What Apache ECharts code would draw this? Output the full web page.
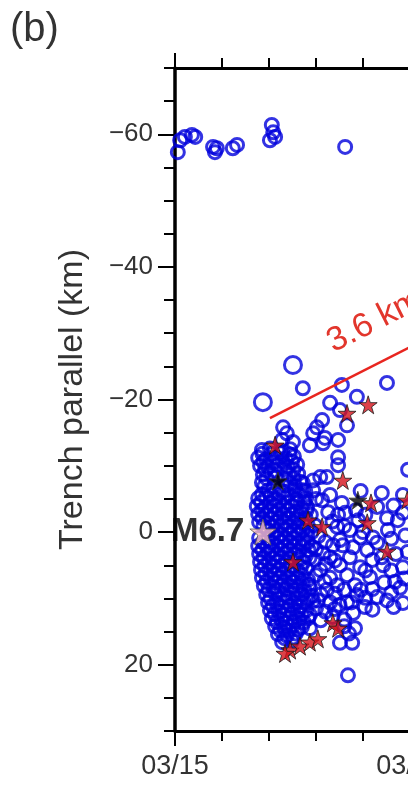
<!DOCTYPE html>
<html><head><meta charset="utf-8">
<script src="https://cdn.jsdelivr.net/npm/echarts@6/dist/echarts.min.js"></script>
<style>html,body{margin:0;padding:0;background:#fff}#c{width:408px;height:803px}</style>
</head><body><div id="c"></div>
<script>
const FONT = '"Liberation Sans", Arial, Helvetica, sans-serif';
const panelLabel = '(b)';
const yAxisTitle = 'Trench parallel (km)';
const xTickDays = [0, 5, 10];
const xTickLabels = ['03/15', '03/20', '03/25'];
const yTickValues = [-60, -40, -20, 0, 20];
const mainshockLabel = 'M6.7';
const rateLabel = '3.6 km/day';

// [days since 03/15, trench-parallel km]
const farAftershocks = [
  [0.06,-57.3],[0.11,-59.1],[0.21,-59.6],[0.36,-59.9],[0.43,-59.6],[0.81,-58.1],[0.85,-57.3],
  [0.89,-57.9],[1.23,-57.9],[1.32,-58.4],[2.02,-59.1],[2.06,-61.4],[2.09,-60.3],[2.13,-59.6],[3.62,-58.1]
];
const aftershocks = [
  [1.85,-12.4],[2.02,-12.6],[2.28,-12.2],[2.45,-12.5],
  [1.77,-11.2],[1.94,-11.0],[2.15,-11.3],[2.36,-11.1],[2.53,-11.4],
  [1.81,-10.0],[1.98,-9.8],[2.19,-10.1],[2.40,-9.9],[2.60,-10.2],
  [1.87,-8.7],[2.04,-8.9],[2.43,-8.6],[2.62,-8.8],
  [1.85,-7.5],[2.45,-7.3],[2.66,-7.6],
  [1.98,-6.3],[2.30,-6.1],[2.55,-6.4],[2.77,-6.2],
  [1.77,-5.1],[1.94,-5.3],[2.13,-5.0],[2.34,-5.2],[2.57,-4.9],[2.79,-5.1],
  [1.74,-3.9],[1.91,-3.7],[2.11,-4.0],[2.30,-3.8],[2.49,-3.9],[2.70,-3.6],
  [1.77,-2.7],[1.94,-2.5],[2.13,-2.8],[2.32,-2.6],[2.51,-2.7],[2.68,-2.9],[2.89,-2.6],
  [1.79,-1.5],[1.98,-1.3],[2.17,-1.6],[2.36,-1.4],[2.55,-1.5],[2.74,-1.2],
  [1.98,-0.3],[2.15,-0.1],[2.34,-0.4],[2.53,-0.2],[2.72,-0.3],[2.91,0.0],
  [1.79,0.9],[1.98,1.1],[2.17,0.8],[2.36,1.0],[2.55,0.9],[2.74,1.2],
  [1.77,2.1],[1.96,2.3],[2.15,2.0],[2.34,2.2],[2.53,2.1],[2.72,1.9],[2.91,2.2],
  [1.79,3.3],[1.98,3.1],[2.17,3.4],[2.36,3.2],[2.57,3.3],[2.79,3.5],
  [1.81,4.5],[2.00,4.7],[2.19,4.4],[2.38,4.6],[2.74,4.5],
  [1.83,5.7],[2.02,5.9],[2.21,5.6],[2.40,5.8],[2.60,5.7],[2.79,5.5],
  [1.85,6.9],[2.04,7.1],[2.23,6.8],[2.43,7.0],[2.62,6.9],[2.83,7.2],
  [1.89,8.1],[2.09,8.3],[2.28,8.0],[2.47,8.2],[2.66,8.1],[2.85,7.9],
  [1.94,9.4],[2.13,9.2],[2.32,9.5],[2.51,9.3],[2.70,9.4],[2.91,9.6],
  [1.98,10.6],[2.17,10.8],[2.36,10.5],[2.55,10.7],[2.74,10.6],[2.94,10.4],
  [2.02,11.8],[2.21,12.0],[2.40,11.7],[2.60,11.9],[2.79,11.8],
  [2.06,13.0],[2.26,13.2],[2.45,12.9],[2.64,13.1],[2.83,13.0],
  [2.13,14.2],[2.32,14.4],[2.51,14.1],[2.70,14.3],
  [2.19,15.4],[2.38,15.6],[2.57,15.3],
  [2.28,16.6],[2.49,16.4],
  [1.86,-11.8],[2.05,-11.8],[2.25,-11.9],[2.44,-11.7],
  [1.88,-10.6],[2.08,-10.5],[2.29,-10.7],[2.49,-10.6],
  [1.92,-9.4],[2.12,-9.3],[2.33,-9.5],[2.52,-9.4],
  [1.95,-8.1],[2.14,-8.2],[2.34,-8.0],[2.53,-8.1],
  [1.90,-6.9],[2.10,-6.8],[2.37,-7.0],[2.56,-6.9],
  [1.85,-5.7],[2.04,-5.6],[2.21,-5.8],[2.42,-5.7],[2.64,-5.6],
  [1.83,-4.5],[2.02,-4.4],[2.22,-4.6],[2.40,-4.5],[2.60,-4.4],[2.75,-4.6],
  [1.85,-3.3],[2.03,-3.2],[2.21,-3.4],[2.40,-3.3],[2.59,-3.1],[2.80,-3.3],
  [1.86,-2.1],[2.05,-2.0],[2.24,-2.2],[2.42,-2.1],[2.61,-1.9],[2.78,-2.1],
  [1.88,-0.9],[2.07,-0.8],[2.26,-1.0],[2.45,-0.9],[2.64,-0.7],[2.83,-0.9],
  [2.06,0.3],[2.25,0.4],[2.44,0.2],[2.63,0.3],[2.82,0.5],
  [1.87,1.5],[2.06,1.6],[2.26,1.4],[2.45,1.5],[2.64,1.7],[2.83,1.5],
  [1.86,2.7],[2.06,2.8],[2.25,2.6],[2.45,2.7],[2.64,2.9],[2.84,2.7],
  [1.89,3.9],[2.08,4.0],[2.27,3.8],[2.47,3.9],[2.66,4.1],[2.86,3.9],
  [1.91,5.1],[2.10,5.2],[2.29,5.0],[2.49,5.1],[2.68,5.3],
  [1.93,6.3],[2.12,6.4],[2.31,6.2],[2.50,6.3],[2.70,6.5],
  [1.95,7.5],[2.14,7.6],[2.33,7.4],[2.52,7.5],[2.72,7.7],
  [1.99,8.7],[2.18,8.8],[2.37,8.6],[2.57,8.7],[2.76,8.9],
  [2.03,10.0],[2.22,10.1],[2.42,9.9],[2.61,10.0],[2.82,10.2],
  [2.08,11.2],[2.27,11.3],[2.46,11.1],[2.66,11.2],
  [2.12,12.4],[2.31,12.5],[2.50,12.3],[2.70,12.4],
  [2.17,13.6],[2.36,13.7],[2.55,13.5],[2.74,13.6],
  [2.24,14.8],[2.43,14.9],[2.62,14.7],
  [2.33,16.0],[2.52,15.9],
  [2.72,-21.7],[3.55,-22.2],[4.51,-22.5],[3.87,-20.4],[3.30,-19.5],[3.51,-18.4],[3.66,-16.1],
  [3.13,-16.9],[3.02,-15.8],[2.94,-14.9],[3.19,-14.2],[2.87,-13.1],[3.47,-13.9],[2.30,-15.8],
  [2.38,-14.9],[2.51,-13.6],[2.28,-13.9],[3.47,-11.3],[3.47,-10.1],[3.15,-13.4],
  [2.94,-7.8],[3.09,-8.3],[3.23,-8.3],[2.72,-7.4],[2.72,-6.3],[2.94,-6.3],[3.13,-4.8],
  [2.81,-3.8],[3.26,-3.0],[3.47,-2.6],[3.45,-0.8],[3.51,1.2],[3.62,-2.9],[3.55,-4.4],
  [4.30,-3.8],[4.51,-2.1],[4.74,-1.8],[4.85,-5.6],[4.96,-9.4],[3.72,-0.3],[3.94,0.8],
  [4.21,0.8],[4.53,-0.3],[3.57,2.0],[3.79,2.3],[4.09,2.7],[3.72,3.8],[3.94,5.3],[4.43,5.0],
  [4.85,5.3],[3.66,6.5],[4.15,6.8],[4.68,7.5],[3.83,8.0],[4.79,8.4],[4.30,9.8],[3.87,9.5],
  [4.51,10.3],[3.66,10.6],[4.04,11.3],[4.85,10.7],[3.79,12.2],[3.30,3.8],[3.51,5.0],
  [3.30,6.9],[2.87,8.4],[3.30,10.6],[2.87,12.5],[3.51,16.7],[3.77,16.7],[3.68,21.6],
  [3.83,14.5],[3.36,2.0],[3.09,5.7],[3.23,8.7],[3.04,10.3],[2.87,14.5],
  [2.98,-1.0],[3.05,0.6],[3.20,1.5],[3.00,2.6],[3.15,3.2],[2.98,4.2],[3.20,4.8],[3.40,4.3],
  [3.00,6.5],[3.18,7.4],[3.45,8.0],[3.10,9.4],[3.40,9.3],[3.00,11.5],[3.20,12.0],[3.40,11.6],
  [3.10,13.3],[3.35,12.8],[3.60,13.2],[3.00,-5.0],[3.30,-5.6],[3.35,-1.6],[3.60,-0.9],
  [3.90,-1.8],[3.85,-3.3],[4.05,-2.6],[4.00,0.0],[4.30,1.6],[4.60,1.0],[4.70,3.3],[4.40,3.8],
  [4.20,4.2],[4.05,5.8],[4.60,5.8],[4.45,7.6],[4.20,8.6],[3.95,8.7],[4.60,9.1],[4.05,9.9],
  [3.60,8.7],[3.50,11.0],[3.75,10.6],[4.20,11.7],[4.65,11.3],[3.60,14.2],[3.70,15.3],
  [3.95,-6.2],[4.40,-5.9],[4.65,-4.0],[4.85,-2.9],[4.90,0.5],[4.95,3.0],[4.88,7.0]
];
const largeAftershocks = [[1.87,-19.6],[2.51,-25.2]];
const redStars = [
  [2.13,-13.1],[3.66,-17.9],[4.11,-19.2],[3.57,-7.8],[2.83,-1.8],[3.13,-0.8],[4.09,-1.4],
  [4.51,2.9],[2.51,4.5],[2.45,17.8],[2.66,17.2],[2.87,16.6],[3.04,16.1],[2.34,18.3],
  [3.36,13.7],[3.47,14.5],[4.94,-4.8],[4.17,-4.4]
];
const blackStars = [[2.19,-7.7],[3.89,-4.8]];
const mainshock = [[1.87,0]];
const migrationLine = [[2.02,-17.2],[8.0,-38.7]];
const rateLabelAnchor = [3.66,-23.1];

const STAR = 'path://M50,0L61.2,34.5L97.6,34.5L68.2,55.9L79.4,90.5L50,69.1L20.6,90.5L31.8,55.9L2.4,34.5L38.8,34.5Z';
const xFmt = v => { const i = xTickDays.indexOf(Math.round(v)); return i >= 0 ? xTickLabels[i] : ''; };
const yFmt = v => (v < 0 ? '\u2212' + Math.abs(v) : String(v));
const black = {color:'#000', width:2};

const chart = echarts.init(document.getElementById('c'), null, {renderer:'canvas'});
const xBase = (pos, showLabel) => ({
  type:'value', position:pos, min:0, max:10, interval:5,
  axisLine:{onZero:false, lineStyle:{color:'#000', width:3}},
  axisTick:{length:15, lineStyle:black},
  minorTick:{show:true, splitNumber:5, length:10, lineStyle:black},
  axisLabel:{show:showLabel, formatter:xFmt, fontSize:27, color:'#333', margin:22, fontFamily:FONT},
  splitLine:{show:false}, minorSplitLine:{show:false}
});
chart.setOption({
  animation:false,
  textStyle:{fontFamily:FONT},
  grid:{left:175, top:68, width:470, bottom:72, containLabel:false, outerBoundsMode:'none'},
  xAxis:[xBase('bottom', true), xBase('top', false)],
  yAxis:[
    {type:'value', position:'left', inverse:true, min:-70, max:30, interval:5,
     axisLine:{onZero:false, lineStyle:{color:'#000', width:3.5}},
     axisTick:{length:11, lineStyle:black},
     axisLabel:{customValues:yTickValues, formatter:yFmt, fontSize:26, color:'#333', margin:22, fontFamily:FONT},
     name:yAxisTitle, nameLocation:'middle', nameGap:85,
     nameTextStyle:{fontSize:34, color:'#333', fontFamily:FONT},
     splitLine:{show:false}},
    {type:'value', position:'left', inverse:true, min:-70, max:30,
     axisLine:{show:false, onZero:false},
     axisTick:{customValues:yTickValues, length:17, lineStyle:black},
     axisLabel:{show:false}, splitLine:{show:false}}
  ],
  series:[
    {type:'scatter', data:farAftershocks.concat(aftershocks), symbol:'circle', symbolSize:13, silent:true,
     itemStyle:{color:'rgba(255,255,255,0)', borderColor:'#0000dc', borderWidth:3}, z:2},
    {type:'scatter', data:largeAftershocks, symbol:'circle', symbolSize:17, silent:true,
     itemStyle:{color:'rgba(255,255,255,0)', borderColor:'#0000dc', borderWidth:3}, z:2},
    {type:'line', data:migrationLine, symbol:'none', silent:true,
     lineStyle:{color:'#e8251f', width:2.5}, z:5},
    {type:'scatter', data:redStars, symbol:STAR, symbolSize:18, silent:true,
     itemStyle:{color:'#d5121a', borderColor:'#1a1a1a', borderWidth:1}, z:3},
    {type:'scatter', data:blackStars, symbol:STAR, symbolSize:18, silent:true,
     itemStyle:{color:'#000', borderColor:'#333', borderWidth:1}, z:3},
    {type:'scatter', data:mainshock, symbol:STAR, symbolSize:26, silent:true,
     itemStyle:{color:'#f9bfbf', borderColor:'#555', borderWidth:1}, z:4,
     label:{show:true, position:'left', distance:5, formatter:mainshockLabel,
            fontSize:33, fontWeight:'bold', color:'#000', fontFamily:FONT}}
  ]
});

const p1 = chart.convertToPixel({xAxisIndex:0, yAxisIndex:0}, migrationLine[0]);
const p2 = chart.convertToPixel({xAxisIndex:0, yAxisIndex:0}, migrationLine[1]);
const ang = Math.atan2(p1[1] - p2[1], p2[0] - p1[0]);
const pa = chart.convertToPixel({xAxisIndex:0, yAxisIndex:0}, rateLabelAnchor);
const off = 22;
chart.setOption({
  graphic:[
    {type:'text', left:10, top:10, style:{text:panelLabel, fontSize:40, fill:'#333', fontFamily:FONT}},
    {type:'text', x:pa[0] - Math.sin(ang) * off, y:pa[1] - Math.cos(ang) * off, rotation:ang,
     style:{text:rateLabel, fontSize:34, fill:'#e2362c', fontFamily:FONT, textAlign:'left', textVerticalAlign:'bottom'}}
  ]
});
</script></body></html>
